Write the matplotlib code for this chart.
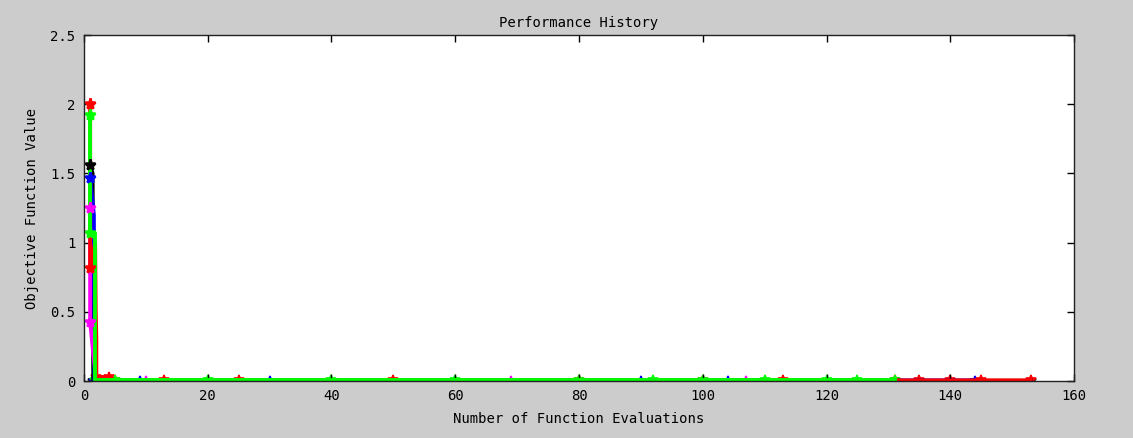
import matplotlib.pyplot as plt

# Objective value history for each optimisation run
red_x = [1, 1, 1.8, 1.9, 2, 2, 4, 5, 13, 25, 50, 80, 100, 113, 131, 135, 140, 145, 153]
red_y = [2.0, 0.82, 1.0, 0.5, 0.3, 0.03, 0.03, 0.005, 0.005, 0.005, 0.005, 0.005, 0.005, 0.005, 0.005, 0.005, 0.005, 0.005, 0.005]
red_starts = 2

blue_x = [1, 1.6, 1.7, 5, 9, 30, 60, 90, 104, 110, 135, 144]
blue_y = [1.47, 1.2, 0.004, 0.004, 0.004, 0.004, 0.004, 0.004, 0.004, 0.004, 0.004, 0.004]
blue_starts = 1

magenta_x = [1, 1, 1.5, 2, 10, 40, 69, 107]
magenta_y = [1.25, 0.43, 0.2, 0.004, 0.004, 0.004, 0.004, 0.004]
magenta_starts = 2

black_x = [1, 1.4, 1.5, 20, 60, 100, 140, 153]
black_y = [1.56, 1.5, 0.002, 0.002, 0.002, 0.002, 0.002, 0.002]
black_starts = 1

green_x = [1, 1, 1.8, 1.8, 5, 20, 40, 60, 80, 92, 100, 110, 120, 125, 131]
green_y = [1.92, 1.07, 1.07, 0.006, 0.006, 0.006, 0.006, 0.006, 0.006, 0.006, 0.006, 0.006, 0.006, 0.006, 0.006]
green_starts = 2

runs = [
    (black_x, black_y, black_starts, 'k'),
    (blue_x, blue_y, blue_starts, '#0000ff'),
    (magenta_x, magenta_y, magenta_starts, '#ff00ff'),
    (red_x, red_y, red_starts, '#ff0000'),
    (green_x, green_y, green_starts, '#00ff00'),
]

plt.rcParams['font.family'] = 'DejaVu Sans Mono'
plt.rcParams['font.size'] = 10

fig = plt.figure(figsize=(11.33, 4.38), dpi=100, facecolor='#cccccc')
ax = fig.add_axes([0.0741, 0.130, 0.8739, 0.790])
ax.set_facecolor('white')

for i, (x, y, n, c) in enumerate(runs):
    # converged evaluations: markers sit underneath the lines
    fx = [a for a, b in zip(x, y) if b < 0.05]
    fy = [b for b in y if b < 0.05]
    ax.plot(fx, fy, linestyle='none', marker='*', markersize=7,
            markeredgewidth=1.2, color=c, zorder=1)
    ax.plot(x, y, color=c, linewidth=2.8, zorder=2 + i)
    # starting points stay visible on top
    ax.plot(x[:n], y[:n], linestyle='none', marker='*', markersize=8,
            markeredgewidth=1.8, color=c, zorder=10)

ax.set_xlim(0, 160)
ax.set_ylim(0, 2.5)
ax.set_xticks(range(0, 161, 20))
ax.set_yticks([0, 0.5, 1, 1.5, 2, 2.5])
ax.set_yticklabels(['0', '0.5', '1', '1.5', '2', '2.5'])
ax.tick_params(direction='in', top=True, right=True, length=5, width=1,
               pad=6, colors='black', labelsize=10)
for s in ax.spines.values():
    s.set_linewidth(1)
    s.set_color('#222222')
    s.set_zorder(20)

ax.set_title('Performance History', fontsize=10, pad=6)
ax.set_xlabel('Number of Function Evaluations', fontsize=10, labelpad=6)
ax.set_ylabel('Objective Function Value', fontsize=10, labelpad=8)

fig.savefig('out.png', dpi=100, facecolor=fig.get_facecolor())
